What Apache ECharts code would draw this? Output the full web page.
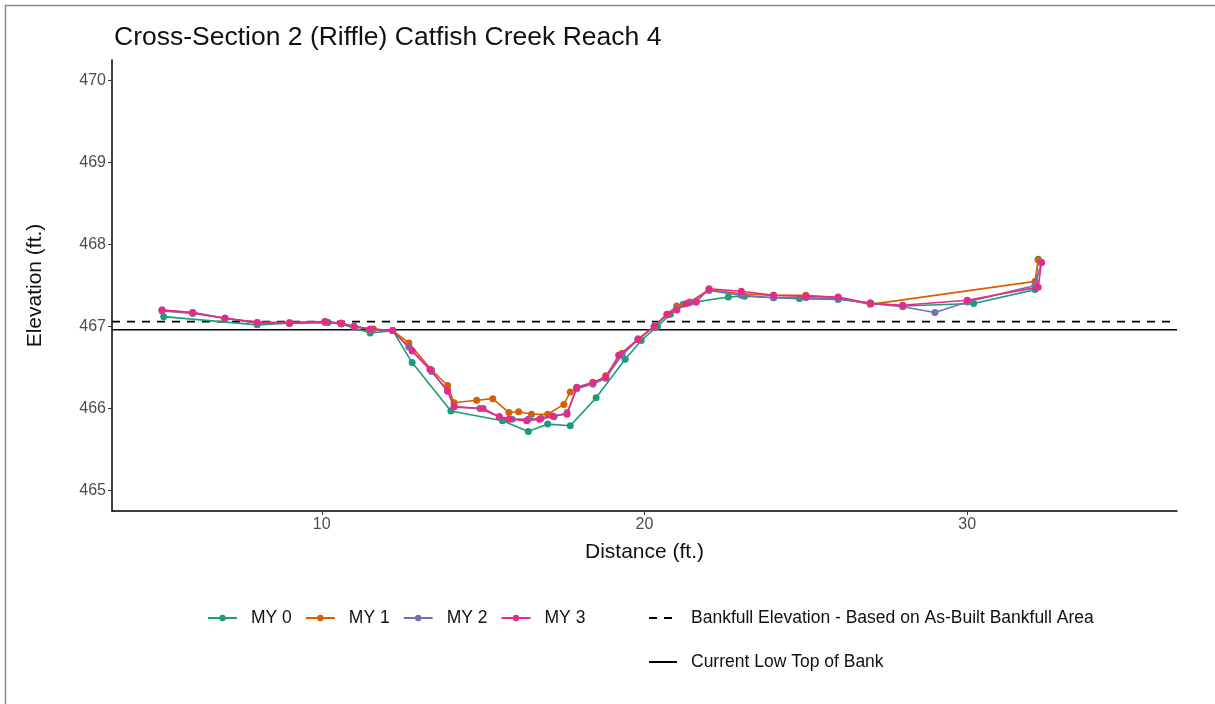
<!DOCTYPE html>
<html>
<head>
<meta charset="utf-8">
<script src="https://cdn.jsdelivr.net/npm/echarts@6/dist/echarts.min.js"></script>
<style>html,body{margin:0;padding:0;background:#fff}#c{width:1215px;height:704px}</style>
</head>
<body>
<div id="c"></div>
<script>
// ---- data ----
const title = 'Cross-Section 2 (Riffle) Catfish Creek Reach 4';
const seriesNames = ['MY 0', 'MY 1', 'MY 2', 'MY 3'];
const my0 = [[5.1,467.12],[8.0,467.02],[9.0,467.04],[10.2,467.05],[10.6,467.03],[11.5,466.92],[12.2,466.95],[12.8,466.56],[14.0,465.97],[15.6,465.85],[16.4,465.72],[17.0,465.81],[17.7,465.79],[18.5,466.13],[19.4,466.6],[19.9,466.83],[20.4,467.0],[20.8,467.15],[21.2,467.27],[21.6,467.3],[22.6,467.36],[23.1,467.37],[24.0,467.35],[24.8,467.34],[26.0,467.33],[27.0,467.29],[28.0,467.25],[30.2,467.28],[32.1,467.45],[32.2,467.82]];
const my1 = [[5.05,467.2],[6.0,467.17],[7.0,467.1],[8.0,467.05],[9.0,467.05],[10.1,467.06],[10.6,467.04],[11.0,467.0],[11.6,466.97],[12.2,466.95],[12.7,466.8],[13.4,466.47],[13.9,466.28],[14.1,466.07],[14.8,466.1],[15.3,466.12],[15.8,465.95],[16.1,465.96],[16.5,465.93],[17.0,465.93],[17.5,466.05],[17.7,466.2],[17.9,466.25],[18.4,466.3],[18.8,466.4],[19.3,466.67],[19.8,466.85],[20.3,467.0],[20.7,467.15],[21.0,467.25],[21.4,467.3],[22.0,467.45],[23.0,467.4],[24.0,467.38],[25.0,467.38],[26.0,467.35],[27.0,467.27],[32.1,467.55],[32.2,467.81]];
const my2 = [[5.05,467.19],[6.0,467.16],[7.0,467.1],[8.0,467.04],[9.0,467.04],[10.1,467.05],[10.6,467.04],[11.0,467.0],[11.5,466.96],[12.2,466.95],[12.7,466.75],[13.4,466.45],[13.9,466.22],[14.1,466.02],[14.9,466.0],[15.5,465.9],[15.9,465.87],[16.4,465.87],[16.8,465.88],[17.2,465.9],[17.6,465.95],[17.9,466.24],[18.4,466.3],[18.8,466.37],[19.3,466.65],[19.8,466.84],[20.3,467.0],[20.7,467.14],[21.0,467.22],[21.4,467.29],[22.0,467.44],[23.0,467.38],[24.0,467.35],[25.0,467.35],[26.0,467.34],[27.0,467.28],[28.0,467.24],[29.0,467.17],[30.0,467.3],[32.1,467.5],[32.3,467.78]];
const my3 = [[5.05,467.2],[6.0,467.17],[7.0,467.1],[8.0,467.05],[9.0,467.04],[10.1,467.06],[10.6,467.04],[11.0,467.0],[11.5,466.97],[12.2,466.95],[12.8,466.7],[13.35,466.48],[13.9,466.21],[14.1,466.02],[15.0,466.0],[15.5,465.9],[15.8,465.87],[16.35,465.85],[16.75,465.87],[17.15,465.91],[17.6,465.93],[17.9,466.26],[18.4,466.32],[18.8,466.38],[19.2,466.65],[19.8,466.84],[20.3,467.0],[20.7,467.15],[21.0,467.2],[21.3,467.28],[21.6,467.3],[22.0,467.46],[23.0,467.43],[24.0,467.38],[25.0,467.37],[26.0,467.36],[27.0,467.28],[28.0,467.26],[30.0,467.32],[32.2,467.48],[32.3,467.78]];
const bankfullName = 'Bankfull Elevation - Based on As-Built Bankfull Area';
const bankfullElev = 467.06;
const lowTopName = 'Current Low Top of Bank';
const lowTopElev = 466.96;
const xTicks = [10, 20, 30];
const yTicks = [465, 466, 467, 468, 469, 470];
const xRange = [3.5, 36.5];
const yRange = [464.75, 470.25];
const colors = ['#1B9E77', '#D95F02', '#7570B3', '#E7298A'];

// ---- chart ----
const chart = echarts.init(document.getElementById('c'));
const font = 'Liberation Sans, Arial, Helvetica, sans-serif';
const mySeries = [my0, my1, my2, my3].map((d, i) => ({
  name: seriesNames[i], type: 'line', data: d,
  symbol: 'circle', symbolSize: 7,
  lineStyle: { width: 1.6, color: colors[i] },
  itemStyle: { color: colors[i] },
  z: 3 + i, animation: false
}));
const hSeries = [
  { name: bankfullName, type: 'line', data: [[xRange[0], bankfullElev], [xRange[1], bankfullElev]],
    symbol: 'none', lineStyle: { color: '#000', width: 1.6, type: [8, 7] }, itemStyle: { color: '#000' }, z: 2, animation: false },
  { name: lowTopName, type: 'line', data: [[xRange[0], lowTopElev], [xRange[1], lowTopElev]],
    symbol: 'none', lineStyle: { color: '#000', width: 1.6, type: 'solid' }, itemStyle: { color: '#000' }, z: 2, animation: false }
];
chart.setOption({
  backgroundColor: '#fff',
  animation: false,
  textStyle: { fontFamily: font },
  title: { text: title, left: 109, top: 19, textStyle: { fontSize: 26.5, fontWeight: 'normal', color: '#111', fontFamily: font } },
  graphic: [{ type: 'rect', shape: { x: 5.5, y: 5.5, width: 1300, height: 800 }, style: { fill: 'none', stroke: '#8a8a8a', lineWidth: 1.5 }, silent: true }],
  grid: { left: 112, right: 38, top: 60, bottom: 193, containLabel: false },
  xAxis: {
    type: 'value', min: xRange[0], max: xRange[1],
    name: 'Distance (ft.)', nameLocation: 'middle', nameGap: 31,
    nameTextStyle: { fontSize: 21, color: '#111', fontFamily: font },
    axisLine: { show: true, lineStyle: { color: '#000', width: 1.5 } },
    axisTick: { show: true, length: 4, customValues: xTicks, lineStyle: { color: '#333' } },
    axisLabel: { customValues: xTicks, fontSize: 16, color: '#4d4d4d', margin: 6, fontFamily: font },
    splitLine: { show: false }
  },
  yAxis: {
    type: 'value', min: yRange[0], max: yRange[1],
    name: 'Elevation (ft.)', nameLocation: 'middle', nameGap: 66, nameRotate: 90,
    nameTextStyle: { fontSize: 21, color: '#111', fontFamily: font },
    axisLine: { show: true, lineStyle: { color: '#000', width: 1.5 } },
    axisTick: { show: true, length: 4, customValues: yTicks, lineStyle: { color: '#333' } },
    axisLabel: { customValues: yTicks, fontSize: 16, color: '#4d4d4d', margin: 6, fontFamily: font },
    splitLine: { show: false }
  },
  legend: [
    { data: seriesNames, left: 202, top: 604, itemWidth: 29, itemHeight: 8, itemGap: 13,
      textStyle: { fontSize: 17.5, color: '#111', fontFamily: font, padding: [0, 0, 0, 9] } },
    { data: [bankfullName, lowTopName], orient: 'vertical', left: 643, top: 604, itemWidth: 28, itemHeight: 14, itemGap: 26,
      itemStyle: { opacity: 0 },
      textStyle: { fontSize: 17.5, color: '#111', fontFamily: font, padding: [0, 0, 0, 9] } }
  ],
  series: [...hSeries, ...mySeries]
});
</script>
</body>
</html>
